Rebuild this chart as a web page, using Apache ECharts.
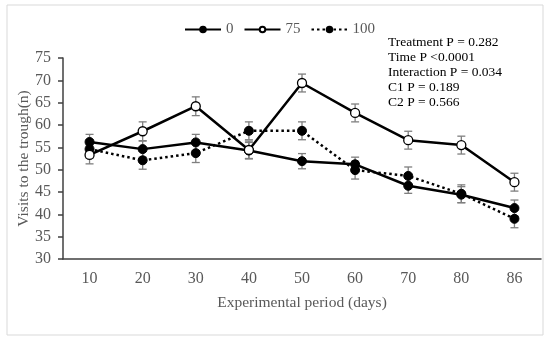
<!DOCTYPE html>
<html>
<head>
<meta charset="utf-8">
<script src="https://cdn.jsdelivr.net/npm/echarts@6/dist/echarts.min.js"></script>
<style>html,body{margin:0;padding:0;background:#fff}#c{width:550px;height:341px}</style>
</head>
<body>
<div id="c"></div>
<script>
const categories = ['10','20','30','40','50','60','70','80','86'];
const s0 = [56.2, 54.6, 56.1, 54.3, 51.9, 51.2, 46.4, 44.4, 41.4];
const s75 = [53.3, 58.6, 64.2, 54.4, 69.4, 62.7, 56.6, 55.5, 47.2];
const s100 = [54.6, 52.1, 53.7, 58.7, 58.7, 49.9, 48.6, 44.6, 39.0];
const e0 = [1.7, 1.8, 1.8, 1.8, 1.7, 1.6, 1.7, 1.8, 1.8];
const e75 = [2.0, 2.1, 2.1, 2.0, 2.0, 2.0, 2.0, 2.0, 2.0];
const e100 = [2.0, 2.0, 2.1, 2.0, 2.0, 2.0, 2.0, 2.0, 2.0];
const yTicks = {min: 30, max: 75, interval: 5};
const notes = ['Treatment P = 0.282','Time P <0.0001','Interaction P = 0.034','C1 P = 0.189','C2 P = 0.566'];

const FONT = "'Liberation Serif','Times New Roman',serif";
const chart = echarts.init(document.getElementById('c'));

function errData(vals, errs){
  return vals.map((v,i)=>[i, v-errs[i], v+errs[i]]);
}
function errSeries(vals, errs){
  return {
    type:'custom', silent:true, z:1,
    data: errData(vals, errs),
    renderItem: function(params, api){
      const x = api.value(0);
      const lo = api.coord([x, api.value(1)]);
      const hi = api.coord([x, api.value(2)]);
      const w = 4;
      const st = {stroke:'#7f7f7f', lineWidth:1.3};
      return {type:'group', children:[
        {type:'line', shape:{x1:lo[0],y1:lo[1],x2:hi[0],y2:hi[1]}, style:st},
        {type:'line', shape:{x1:lo[0]-w,y1:lo[1],x2:lo[0]+w,y2:lo[1]}, style:st},
        {type:'line', shape:{x1:hi[0]-w,y1:hi[1],x2:hi[0]+w,y2:hi[1]}, style:st}
      ]};
    }
  };
}

chart.setOption({
  animation:false,
  textStyle:{fontFamily:FONT},
  graphic:[
    {type:'rect', shape:{x:7,y:5,width:536,height:330}, style:{fill:'none', stroke:'#d9d9d9', lineWidth:1}, z:-1},
    {type:'text', left:388, top:35, style:{text:notes.join('\n'), font:"13.5px "+FONT, fill:'#000', lineHeight:15}}
  ],
  legend:{
    data:['0','75','100'],
    top:17, left:179,
    itemWidth:36, itemHeight:7, itemGap:10,
    textStyle:{fontFamily:FONT, fontSize:15, color:'#595959'}
  },
  grid:{left:63, right:9, top:58, bottom:82},
  xAxis:{
    type:'category', data:categories,
    name:'Experimental period (days)', nameLocation:'middle', nameGap:36,
    nameTextStyle:{fontFamily:FONT, fontSize:15.5, color:'#595959'},
    axisLine:{lineStyle:{color:'#404040', width:1.5}},
    axisTick:{length:5, lineStyle:{color:'#404040', width:1.5}},
    axisLabel:{fontFamily:FONT, fontSize:16, color:'#595959', margin:12}
  },
  yAxis:{
    type:'value', min:yTicks.min, max:yTicks.max, interval:yTicks.interval,
    name:'Visits to the trough(n)', nameLocation:'middle', nameGap:31, nameMoveOverlap:false,
    nameTextStyle:{fontFamily:FONT, fontSize:15.5, color:'#595959'},
    splitLine:{show:false},
    axisLine:{show:true, lineStyle:{color:'#404040', width:1.5}},
    axisTick:{show:true, length:5, lineStyle:{color:'#404040', width:1.5}},
    axisLabel:{fontFamily:FONT, fontSize:16, color:'#595959', margin:12}
  },
  series:[
    errSeries(s0,e0), errSeries(s75,e75), errSeries(s100,e100),
    {name:'0', type:'line', data:s0, z:3, symbol:'circle', symbolSize:9,
     lineStyle:{color:'#000', width:2.5}, itemStyle:{color:'#000', borderColor:'#000', borderWidth:1}},
    {name:'75', type:'line', data:s75, z:4, symbol:'circle', symbolSize:9,
     lineStyle:{color:'#000', width:2.5}, itemStyle:{color:'#fff', borderColor:'#000', borderWidth:1.3}},
    {name:'100', type:'line', data:s100, z:3, symbol:'circle', symbolSize:9,
     lineStyle:{color:'#000', width:2.5, type:[2.5,3]}, itemStyle:{color:'#000', borderColor:'#000', borderWidth:1}}
  ]
});
</script>
</body>
</html>
